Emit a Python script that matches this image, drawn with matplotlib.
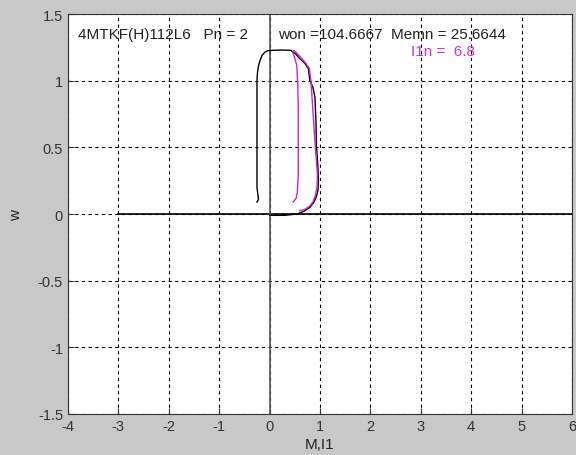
import matplotlib
matplotlib.use("Agg")
from matplotlib import pyplot as plt

plt.rcParams['font.family'] = ['Liberation Sans', 'DejaVu Sans']

# black trajectory (M, w)
m_black = [-0.25, -0.22, -0.25, -0.25, -0.25, -0.24, -0.22, -0.19, -0.15, -0.09, -0.03, 0.05,
           0.25, 0.42, 0.52, 0.60, 0.70, 0.77, 0.80, 0.86, 0.90, 0.92, 0.93, 0.96, 0.97,
           0.96, 0.93, 0.88, 0.80, 0.68, 0.54, 0.3, 0.0]
w_black = [0.09, 0.11, 0.2, 0.6, 1.0, 1.06, 1.11, 1.15, 1.19, 1.215, 1.225, 1.228,
           1.23, 1.228, 1.2, 1.165, 1.13, 1.09, 1.0, 0.95, 0.877, 0.7, 0.51, 0.35, 0.24,
           0.18, 0.13, 0.09, 0.05, 0.02, 0.0, -0.01, -0.01]

# magenta current trajectory (I1, w)
m_mag = [0.47, 0.53, 0.55, 0.57, 0.57, 0.57, 0.56, 0.54, 0.50, 0.46, 0.48, 0.56, 0.64,
         0.72, 0.79, 0.82, 0.84, 0.87, 0.90, 0.93, 0.95, 0.94, 0.91, 0.86, 0.80, 0.70,
         0.60]
w_mag = [0.09, 0.12, 0.16, 0.3, 0.54, 0.8, 0.965, 1.115, 1.17, 1.215, 1.228, 1.2, 1.165,
         1.13, 1.09, 1.0, 0.89, 0.72, 0.54, 0.4, 0.29, 0.2, 0.14, 0.09, 0.06, 0.035,
         0.025]

xticks = [-4, -3, -2, -1, 0, 1, 2, 3, 4, 5, 6]
yticks = [-1.5, -1, -0.5, 0, 0.5, 1, 1.5]
ytick_labels = ['-1.5', '-1', '-0.5', '0', '0.5', '1', '1.5']

fig = plt.figure(figsize=(5.76, 4.56), dpi=100, facecolor='#c8c8c8')
ax = fig.add_axes([0.118, 0.09, 0.875, 0.877])
ax.set_facecolor('white')

ax.set_xlim(-4, 6)
ax.set_ylim(-1.5, 1.5)
ax.set_xticks(xticks)
ax.set_xticklabels([str(t) for t in xticks])
ax.set_yticks(yticks)
ax.set_yticklabels(ytick_labels)
ax.tick_params(labelsize=10.5, direction='in', length=4, colors='#333333')

ax.grid(True, color='black', linestyle=(0, (3, 3)), linewidth=0.8)

# axis lines
ax.plot([-3, 6], [0, 0], color='black', linewidth=1.2)
ax.plot([0, 0], [-1.5, 1.5], color='#555555', linewidth=1.2)

ax.plot(m_black, w_black, color='black', linewidth=1.0)
ax.plot(m_mag, w_mag, color='#d020d0', linewidth=1.0)

ax.text(-3.8, 1.35, '4MTKF(H)112L6   Pn = 2', fontsize=11, color='#222222', va='center')
ax.text(0.17, 1.35, 'won =104.6667  Memn = 25.6644', fontsize=11, color='#222222', va='center')
ax.text(2.8, 1.225, 'I1n =  6.8', fontsize=11, color='#d030d0', va='center')

for s in ax.spines.values():
    s.set_color('#333333')

ax.set_xlabel('M,I1', fontsize=11, color='#222222', labelpad=3)
ax.set_ylabel('w', fontsize=11, color='#222222')
ax.yaxis.set_label_coords(-0.09, 0.5)

fig.savefig('out.png', dpi=100, facecolor=fig.get_facecolor())
